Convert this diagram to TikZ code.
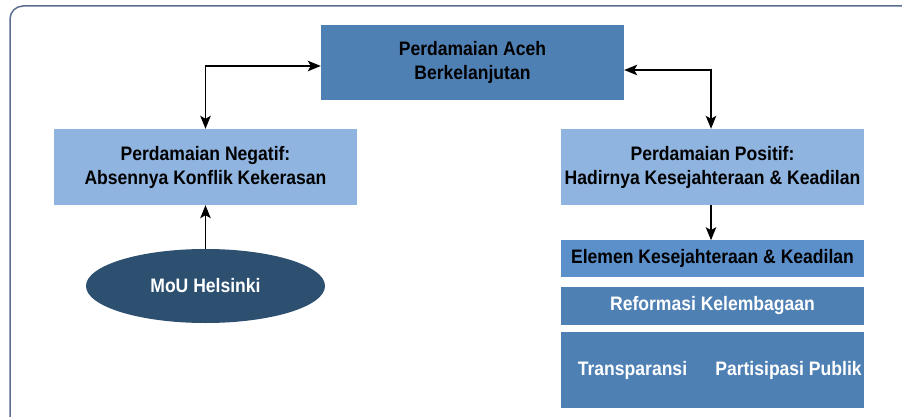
\documentclass[tikz,border=0pt]{standalone}
\usepackage{fontspec}
\setmainfont{Liberation Sans}[FakeStretch=0.9]
\usepackage{tikz}
\usetikzlibrary{positioning,arrows.meta,shapes.geometric}

\definecolor{framegray}{HTML}{5A6D8E}
\definecolor{midblue}{HTML}{4F80B4}
\definecolor{paleblue}{HTML}{8FB4E0}
\definecolor{brightblue}{HTML}{5B90CB}
\definecolor{darkblue}{HTML}{2D4F70}

\begin{document}
\begin{tikzpicture}[
  x=1pt, y=-1pt,
  node distance=9pt,
  txt/.style={font=\bfseries\fontsize{19.5}{24}\selectfont, align=center},
  goal/.style={rectangle, fill=midblue, txt, minimum width=303pt, minimum height=75pt},
  peace/.style={rectangle, fill=paleblue, txt, minimum width=303pt, minimum height=76pt},
  element/.style={rectangle, fill=brightblue, txt, minimum width=303pt, minimum height=37pt},
  reform/.style={rectangle, fill=midblue, txt, text=white, minimum width=303pt, minimum height=38pt},
  driver/.style={ellipse, fill=darkblue, txt, text=white, minimum width=239pt, minimum height=74pt},
  link/.style={-{Stealth[length=13pt, width=10.5pt, inset=3pt]}, line width=1.4pt},
  twoway/.style={{Stealth[length=13pt, width=10.5pt, inset=3pt]}-{Stealth[length=13pt, width=10.5pt, inset=3pt]}, line width=1.4pt}
]
\useasboundingbox (0,0) rectangle (902,417);
\clip (0,0) rectangle (902,417);
\draw[framegray, line width=1.5pt, rounded corners=13pt] (10,6) rectangle (930,432);

\node[goal] (aceh) at (472.5,62.5) {Perdamaian Aceh\\Berkelanjutan};
\node[peace] (neg) at (205.5,167) {Perdamaian Negatif:\\Absennya Konflik Kekerasan};
\node[peace] (pos) at (712.5,167) {Perdamaian Positif:\\Hadirnya Kesejahteraan \& Keadilan};
\node[driver] (mou) at (205.5,286) {MoU Helsinki};

\node[element, below=35pt of pos] (elemen) {Elemen Kesejahteraan \& Keadilan};
\node[reform, below=9pt of elemen] (reformasi) {Reformasi Kelembagaan};
\node[reform, below=7pt of reformasi, minimum height=76pt] (pilar) {};
\node[txt, text=white] (transp) at ([xshift=-80pt]pilar.center) {Transparansi};
\node[txt, text=white] (partis) at ([xshift=76pt]pilar.center) {Partisipasi Publik};

\draw[twoway] ([yshift=-3.5pt]aceh.west) -| (neg.north);
\draw[twoway] ([yshift=-7.5pt]aceh.east) -| ([xshift=-1.5pt]pos.north);
\draw[link] (mou) -- (neg);
\draw[link] ([xshift=-1.5pt]pos.south) -- ([xshift=-1.5pt]elemen.north);
\end{tikzpicture}
\end{document}
